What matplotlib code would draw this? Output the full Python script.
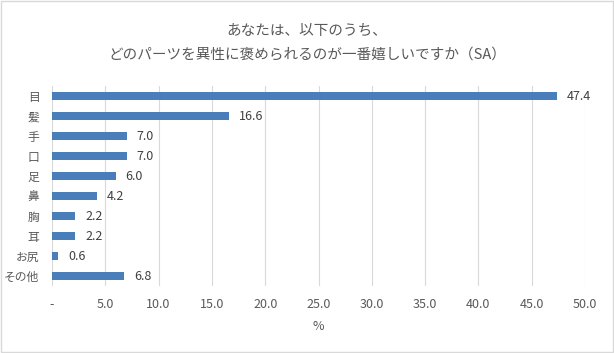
import matplotlib
matplotlib.use("Agg")
from matplotlib import pyplot as plt
from matplotlib.patches import Rectangle

plt.rcParams['font.family'] = ['Noto Sans CJK JP', 'DejaVu Sans']

parts = ["目", "髪", "手", "口", "足", "鼻", "胸", "耳", "お尻", "その他"]
values = [47.4, 16.6, 7.0, 7.0, 6.0, 4.2, 2.2, 2.2, 0.6, 6.8]
xticks = [0, 5, 10, 15, 20, 25, 30, 35, 40, 45, 50]
xticklabels = ["-"] + [f"{t:.1f}" for t in xticks[1:]]
title = "あなたは、以下のうち、\nどのパーツを異性に褒められるのが一番嬉しいですか（SA）"

text_color = "#595959"
bar_color = "#4a7ebb"

fig = plt.figure(figsize=(6.14, 3.53), dpi=100)
ax = fig.add_axes([52/614, 1 - 286/353, 533/614, 200/353])

ypos = list(range(len(parts)))
ax.barh(ypos, values, height=0.36, color=bar_color, zorder=3)
for y, v in zip(ypos, values):
    ax.annotate(f"{v:.1f}", (v, y), xytext=(7, 0), textcoords="offset points",
                va="center", ha="left", fontsize=9, color="#404040")

ax.set_xlim(0, 50)
ax.set_ylim(len(parts) - 0.5, -0.5)
ax.set_xticks(xticks)
ax.set_xticklabels(xticklabels, fontsize=9, color=text_color)
ax.set_yticks(ypos)
ax.set_yticklabels(parts, fontsize=8.5, color=text_color)
ax.tick_params(length=0, pad=9)
ax.tick_params(axis='y', pad=9)
ax.grid(axis='x', color="#d9d9d9", linewidth=0.8, zorder=0)
for s in ax.spines.values():
    s.set_visible(False)
ax.set_xlabel("%", fontsize=9, color=text_color, labelpad=6)

fig.text(0.5, 1 - 43/353, title, ha="center", va="center", fontsize=10.5,
         color=text_color, linespacing=1.9)

fig.patches.append(Rectangle((0.001, 0.002), 0.997, 0.995, transform=fig.transFigure,
                             fill=False, edgecolor="#d9d9d9", linewidth=1))

fig.savefig("out.png", dpi=100)
